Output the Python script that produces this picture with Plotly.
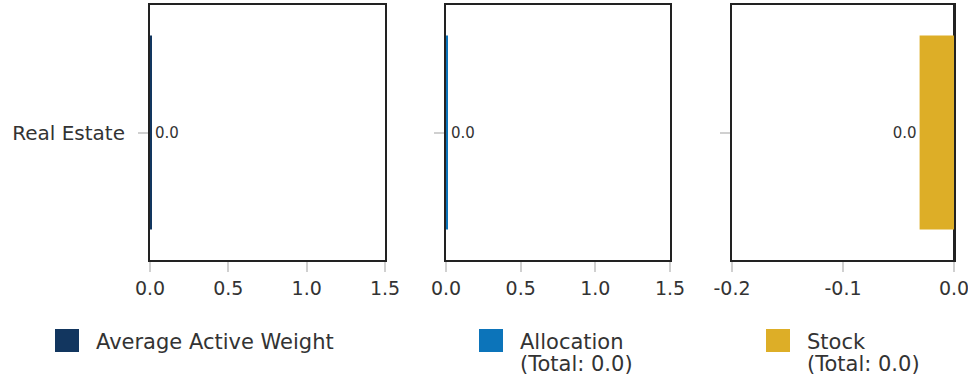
import plotly.graph_objects as go
from plotly.subplots import make_subplots

categories = ["Real Estate"]
avg_active_weight = [0.01]
allocation = [0.012]
stock = [-0.031]
avg_labels = ["0.0"]
alloc_labels = ["0.0"]
stock_labels = ["0.0"]
legend_names = [["Average Active Weight"], ["Allocation", "(Total: 0.0)"], ["Stock", "(Total: 0.0)"]]
colors = ["#12365f", "#0c74ba", "#ddae27"]

FONT = "DejaVu Sans"
TXT = "#333333"

fig = make_subplots(rows=1, cols=3, shared_yaxes=False)

series = [(avg_active_weight, avg_labels), (allocation, alloc_labels), (stock, stock_labels)]
for i, (vals, labs) in enumerate(series):
    fig.add_trace(go.Bar(
        y=categories, x=vals, orientation="h",
        marker=dict(color=colors[i], line=dict(width=0)),
        text=labs, textposition="outside", cliponaxis=False,
        textfont=dict(family=FONT, size=15, color=TXT),
        showlegend=False, hoverinfo="skip",
    ), row=1, col=i + 1)

W, H = 968, 379
doms = [(150, 385), (446, 670), (732, 954)]
ranges = [[0, 1.5], [0, 1.5], [-0.2, 0.0]]
ticks = [[0, 0.5, 1.0, 1.5], [0, 0.5, 1.0, 1.5], [-0.2, -0.1, 0.0]]
for i in range(3):
    xa = "xaxis" if i == 0 else f"xaxis{i+1}"
    ya = "yaxis" if i == 0 else f"yaxis{i+1}"
    fig.layout[xa].update(
        domain=[doms[i][0] / W, doms[i][1] / W], range=ranges[i],
        tickvals=ticks[i], ticktext=[f"{t:.1f}" for t in ticks[i]],
        showline=True, mirror=True, linecolor="#222222", linewidth=2,
        showgrid=False, zeroline=(i == 2), zerolinecolor="#222222", zerolinewidth=3,
        ticks="outside", ticklen=10, tickcolor="#d0d0d0", tickwidth=2,
        tickfont=dict(family=FONT, size=19, color=TXT), fixedrange=True,
        automargin=False, ticklabeloverflow="allow",
    )
    fig.layout[ya].update(
        domain=[1 - 260 / H, 1 - 5 / H],
        showline=True, mirror=True, linecolor="#222222", linewidth=2,
        showgrid=False, zeroline=False,
        ticks="outside", ticklen=10, tickcolor="#d0d0d0", tickwidth=2,
        showticklabels=(i == 0), ticklabelstandoff=9,
        tickfont=dict(family=FONT, size=20, color=TXT), fixedrange=True,
        automargin=False,
    )

# legend drawn manually
leg_x = [55, 479, 766]
for i in range(3):
    fig.add_shape(type="rect", xref="paper", yref="paper",
                  x0=leg_x[i] / W, x1=(leg_x[i] + 24) / W,
                  y0=1 - 352 / H, y1=1 - 329 / H,
                  fillcolor=colors[i], line=dict(width=0))
    for j, line in enumerate(legend_names[i]):
        fig.add_annotation(xref="paper", yref="paper", x=(leg_x[i] + 39) / W,
                           y=1 - (342 + 22 * j) / H,
                           xanchor="left", yanchor="middle", align="left", showarrow=False,
                           text=line,
                           font=dict(family=FONT, size=21, color=TXT))

fig.update_layout(
    width=W, height=H, margin=dict(l=0, r=0, t=0, b=0, autoexpand=False),
    paper_bgcolor="white", plot_bgcolor="white", bargap=0.24,
    font=dict(family=FONT, color=TXT),
)
fig.write_html("out.html", config={"displayModeBar": False},
               post_script="document.body.style.margin='0';")
